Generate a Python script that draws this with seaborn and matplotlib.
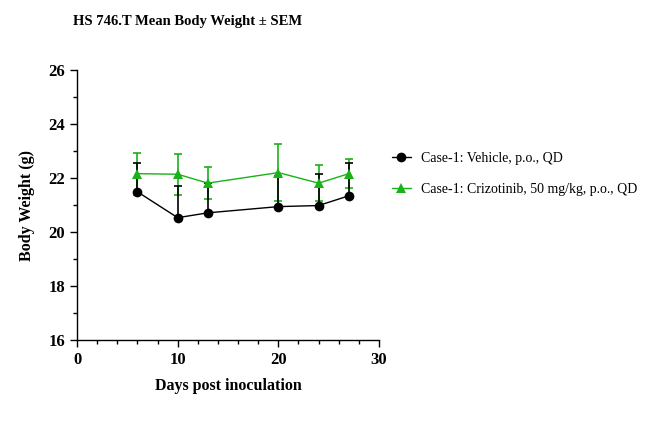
import numpy as np
import pandas as pd
import matplotlib
matplotlib.use("Agg")
import matplotlib.pyplot as plt
import seaborn as sns
from matplotlib.ticker import MultipleLocator

# data
days = [6, 10, 13, 20, 24, 27]
vehicle_mean = [21.49, 20.53, 20.71, 20.94, 20.98, 21.34]
vehicle_sem = [1.05, 1.16, 1.10, 1.15, 1.18, 1.20]
crizo_mean = [22.16, 22.14, 21.81, 22.20, 21.81, 22.16]
crizo_sem = [0.78, 0.76, 0.60, 1.05, 0.66, 0.53]
groups = ["Case-1: Vehicle, p.o., QD", "Case-1: Crizotinib, 50 mg/kg, p.o., QD"]

df = pd.DataFrame({
    "day": days * 2,
    "weight": vehicle_mean + crizo_mean,
    "group": [groups[0]] * len(days) + [groups[1]] * len(days),
})

sns.set_style("ticks")
plt.rcParams['font.family'] = ['Liberation Serif', 'DejaVu Serif']
plt.rcParams['text.color'] = 'black'
plt.rcParams['axes.labelcolor'] = 'black'

fig = plt.figure(figsize=(6.45, 4.25), dpi=100)
ax = fig.add_axes([77 / 645, 1 - 340 / 425, 302 / 645, 270 / 425])

black = "#000000"
green = "#19B219"

# error bars: vehicle upper only, crizotinib both sides
ax.errorbar(days, crizo_mean, yerr=crizo_sem, fmt="none", ecolor=green,
            elinewidth=1.2, capsize=3, capthick=1.2, zorder=2)
ax.errorbar(days, vehicle_mean, yerr=[np.zeros(len(days)), vehicle_sem], fmt="none",
            ecolor=black, elinewidth=1.2, capsize=3, capthick=1.2, zorder=3)

sns.lineplot(data=df, x="day", y="weight", hue="group", style="group",
             palette=[black, green], markers=["o", "^"], dashes=False,
             markersize=7, markeredgewidth=0, linewidth=1, ax=ax, zorder=4,
             legend=True)

ax.set_xlim(0, 30)
ax.set_ylim(16, 26)
ax.xaxis.set_major_locator(MultipleLocator(10))
ax.xaxis.set_minor_locator(MultipleLocator(2))
ax.yaxis.set_major_locator(MultipleLocator(2))
ax.yaxis.set_minor_locator(MultipleLocator(1))
ax.tick_params(which="major", length=5, width=1, colors="black", labelsize=12)
ax.tick_params(which="minor", length=3, width=1, colors="black")
for lab in ax.get_xticklabels() + ax.get_yticklabels():
    lab.set_fontweight("bold")
sns.despine(ax=ax)
for s in ["left", "bottom"]:
    ax.spines[s].set_color("black")
    ax.spines[s].set_linewidth(1)

ax.set_xlabel("Days post inoculation", fontsize=11.5, fontweight="bold", labelpad=7)
ax.set_ylabel("Body Weight (g)", fontsize=11.5, fontweight="bold", labelpad=10)

fig.text(188 / 645, 1 - 21 / 425, "HS 746.T Mean Body Weight \u00b1 SEM",
         ha="center", va="center", fontsize=10.5, fontweight="bold")

leg = ax.legend(loc="center left", bbox_to_anchor=(1.0, 0.615), frameon=False,
                fontsize=10, handlelength=1.4, handletextpad=0.7,
                labelspacing=1.25, title=None)

fig.savefig("out.png", dpi=100)
